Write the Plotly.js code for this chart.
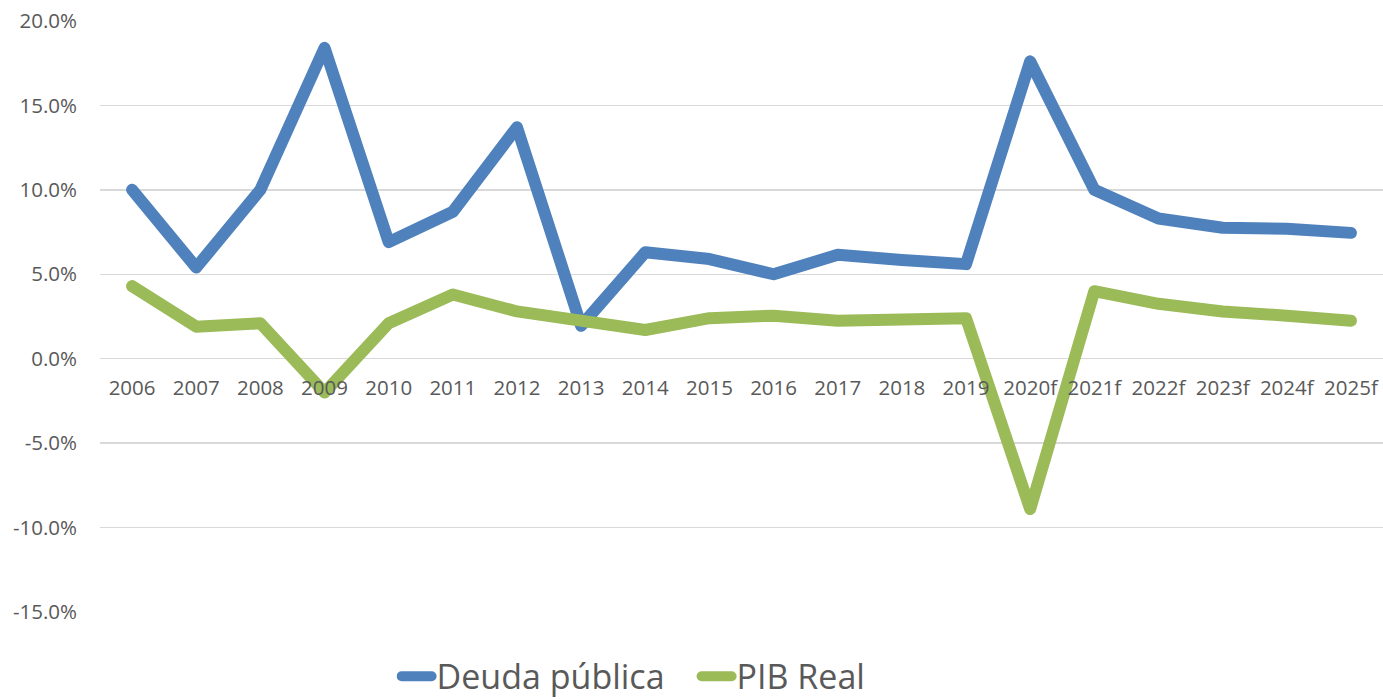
<!DOCTYPE html>
<html>
<head>
<meta charset="utf-8">
<script src="https://cdn.plot.ly/plotly-3.0.1.min.js"></script>
<style>
html, body { margin: 0; padding: 0; background: #fff; }
#chart { width: 1383px; height: 699px; }
.js-line { stroke-linejoin: round; stroke-linecap: round; }
</style>
</head>
<body>
<div id="chart"></div>
<script>
const years = ["2006","2007","2008","2009","2010","2011","2012","2013","2014","2015","2016","2017","2018","2019","2020f","2021f","2022f","2023f","2024f","2025f"];
const deudaPublica = [10.0, 5.4, 10.0, 18.4, 6.9, 8.7, 13.7, 1.95, 6.3, 5.9, 5.0, 6.15, 5.85, 5.6, 17.6, 10.0, 8.3, 7.75, 7.7, 7.45];
const pibReal = [4.3, 1.9, 2.1, -2.0, 2.1, 3.8, 2.8, 2.25, 1.7, 2.4, 2.55, 2.25, 2.4, 2.4, -8.9, 4.0, 3.25, 2.8, 2.55, 2.25];
const yTickVals = [-15, -10, -5, 0, 5, 10, 15, 20];
const yTickText = ["-15.0%", "-10.0%", "-5.0%", "0.0%", "5.0%", "10.0%", "15.0%", "20.0%"];

const font = "'Open Sans', 'Noto Sans', sans-serif";
const textColor = "#595959";
const gridColor = "#d9d9d9";

const traces = [
  { x: years, y: deudaPublica, type: "scatter", mode: "lines", name: "Deuda pública",
    line: { color: "#4f81bd", width: 12 }, hoverinfo: "skip" },
  { x: years, y: pibReal, type: "scatter", mode: "lines", name: "PIB Real",
    line: { color: "#9bbb59", width: 12 }, hoverinfo: "skip" }
];

const layout = {
  width: 1383, height: 699,
  margin: { l: 100, r: 0, t: 20, b: 86, pad: 0 },
  paper_bgcolor: "#ffffff", plot_bgcolor: "#ffffff",
  font: { family: font, color: textColor, size: 20 },
  showlegend: true,
  xaxis: {
    type: "category", range: [-0.5, 19.5],
    anchor: "free", position: 15.05 / 35.1,
    showgrid: false, showline: false, zeroline: false,
    ticks: "", tickfont: { size: 20.5, color: textColor, family: font },
    ticklabelstandoff: 15, fixedrange: true
  },
  yaxis: {
    range: [-15.05, 20.05],
    tickvals: yTickVals, ticktext: yTickText,
    showgrid: true, gridcolor: gridColor, gridwidth: 1.5,
    zeroline: true, zerolinecolor: gridColor, zerolinewidth: 1.5,
    showline: false, ticks: "",
    tickfont: { size: 20.5, color: textColor, family: font },
    ticklabelstandoff: 22, fixedrange: true
  },
  legend: {
    orientation: "h", x: 0.465, xanchor: "center",
    yref: "container", y: 0.032, yanchor: "middle",
    font: { size: 34, color: textColor, family: font },
    entrywidth: 255, itemwidth: 30, bgcolor: "rgba(0,0,0,0)"
  }
};

Plotly.newPlot("chart", traces, layout, { staticPlot: true, displayModeBar: false });
</script>
</body>
</html>
